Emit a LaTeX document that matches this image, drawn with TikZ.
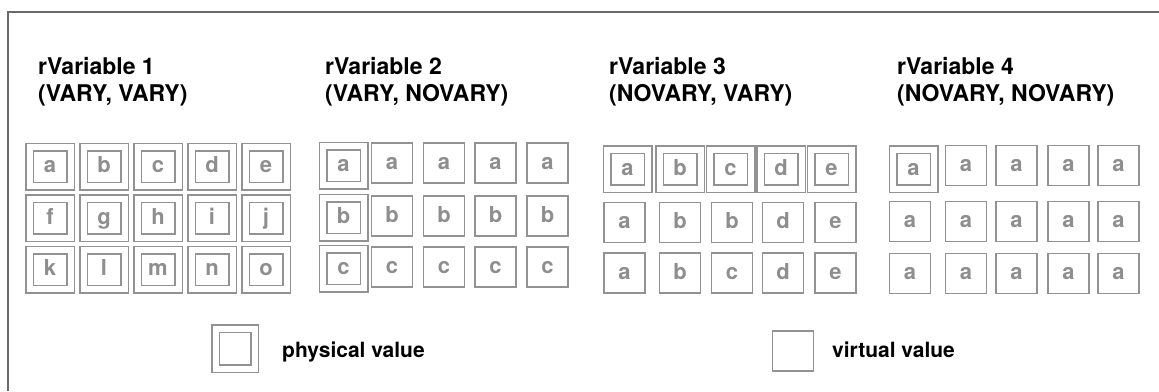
\documentclass[tikz,border=0pt]{standalone}
\usepackage{fontspec}
\setmainfont{TeX Gyre Heros}
\definecolor{boxgray}{HTML}{929292}
\definecolor{lettergray}{HTML}{8E8E8E}
\definecolor{framegray}{HTML}{6A6A6A}
\tikzset{
  cell/.style={draw=boxgray, line width=1.5pt, text=lettergray,
    font=\fontsize{22}{22}\selectfont\bfseries, inner sep=0pt,
    text height=12pt, text depth=0pt,
    minimum width=41pt, minimum height=40pt},
  phys/.style={cell, double=white, double distance=6pt, minimum height=39pt},
  virt/.style={cell},
  title/.style={anchor=north west, align=left, inner sep=0pt,
    font=\fontsize{23}{27}\selectfont\bfseries},
  legendtext/.style={anchor=base west, inner sep=0pt,
    font=\fontsize{21}{23}\selectfont\bfseries},
}
\begin{document}
\begin{tikzpicture}[x=1pt,y=-1pt,line join=miter]
  \useasboundingbox (0,0) rectangle (1159,391);
  % frame, only the top and left edges show
  \coordinate (fbl) at (8,391);
  \coordinate (ftl) at (8,12);
  \coordinate (ftr) at (1159,12);
  \draw[framegray, line width=2pt] (fbl) -- (ftl) -- (ftr);

  % titles
  \node[title] (t1) at (38,57) {rVariable 1\\(VARY, VARY)};
  \node[title] (t2) at (325,57) {rVariable 2\\(VARY, NOVARY)};
  \node[title] (t3) at (609,57) {rVariable 3\\(NOVARY, VARY)};
  \node[title] (t4) at (897,57) {rVariable 4\\(NOVARY, NOVARY)};

  % rVariable 1: every value physical
  \foreach \l [count=\c from 0] in {a,b,c,d,e}
    \node[phys] (v1r1\l) at (50+54*\c,166.5) {\l};
  \foreach \l [count=\c from 0] in {f,g,h,i,j}
    \node[phys] (v1r2\l) at (50+54*\c,218) {\l};
  \foreach \l [count=\c from 0] in {k,l,m,n,o}
    \node[phys] (v1r3\l) at (50+54*\c,269.5) {\l};

  % rVariable 2: first column physical
  \foreach \l/\y in {a/165.5,b/217.5,c/268.5}
    \node[phys] (v2p\l) at (343.5,\y) {\l};
  \foreach \l/\y in {a/163,b/216,c/267}
    \foreach \x [count=\c] in {392,444,495.5,547.5}
      \node[virt] (v2v\l\c) at (\x,\y) {\l};

  % rVariable 3: first row physical
  \foreach \l/\x in {a/627.5,b/680,c/730.5,d/781,e/831.5}
    \node[phys] (v3p\l) at (\x,169) {\l};
  \foreach \l/\x [count=\c] in {a/624.5,b/680,b/732,d/783,e/835.5}
    \node[virt] (v3r2\c) at (\x,222.5) {\l};
  \foreach \l/\x [count=\c] in {a/624.5,b/680,c/732,d/783,e/835.5}
    \node[virt] (v3r3\c) at (\x,273) {\l};

  % rVariable 4: a single physical value
  \node[phys] (v4p) at (913.5,169) {a};
  \foreach \x [count=\c] in {966,1016.5,1068.5,1118.5}
    \node[virt] (v4r1\c) at (\x,165.5) {a};
  \foreach \y [count=\r from 2] in {221.5,273.5}
    \foreach \x [count=\c] in {910,966,1016.5,1068.5,1118.5}
      \node[virt] (v4r\r\c) at (\x,\y) {a};

  % legend
  \node[phys, minimum width=39pt, minimum height=40pt] (lgp) at (235,348.5) {};
  \node[legendtext] (lgpt) at (282,357) {physical value};
  \node[virt] (lgv) at (793,351) {};
  \node[legendtext] (lgvt) at (832,357) {virtual value};
\end{tikzpicture}
\end{document}
